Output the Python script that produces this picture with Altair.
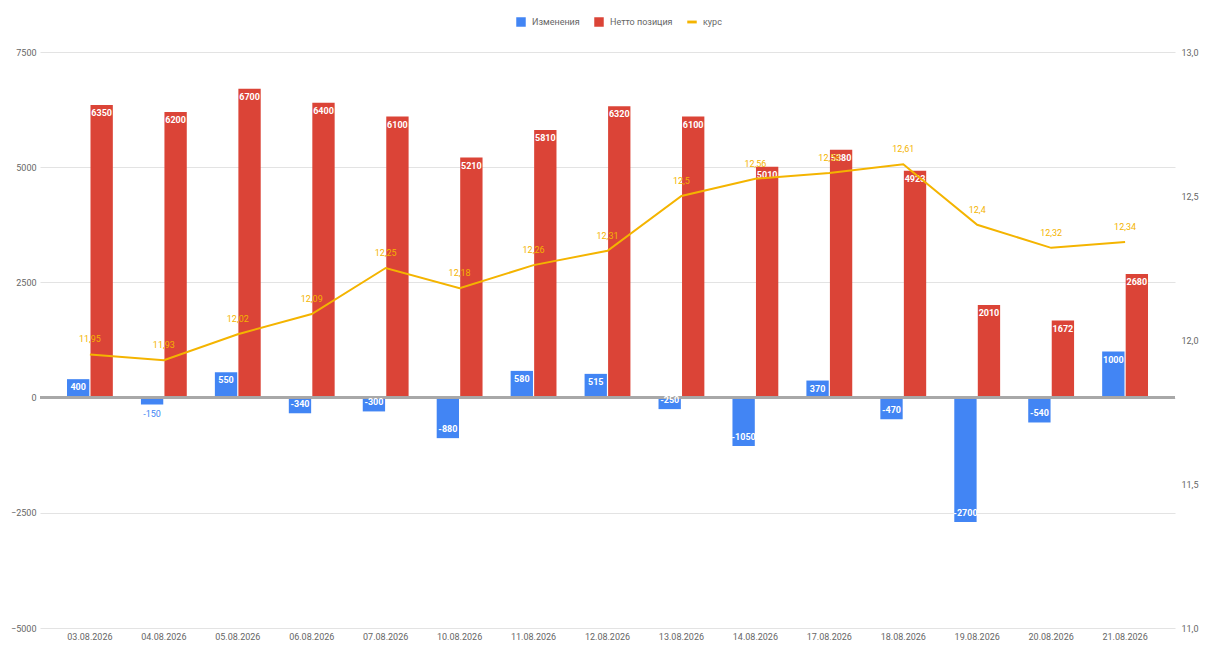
import altair as alt
import pandas as pd

dates = ["03.08.2026", "04.08.2026", "05.08.2026", "06.08.2026", "07.08.2026",
         "10.08.2026", "11.08.2026", "12.08.2026", "13.08.2026", "14.08.2026",
         "17.08.2026", "18.08.2026", "19.08.2026", "20.08.2026", "21.08.2026"]
changes = [400, -150, 550, -340, -300, -880, 580, 515, -250, -1050, 370, -470, -2700, -540, 1000]
net = [6350, 6200, 6700, 6400, 6100, 5210, 5810, 6320, 6100, 5010, 5380, 4923, 2010, 1672, 2680]
rate = [11.95, 11.93, 12.02, 12.09, 12.25, 12.18, 12.26, 12.31, 12.5, 12.56, 12.58, 12.61, 12.4, 12.32, 12.34]

series_bar = ["Изменения", "Нетто позиция"]
series_all = ["Изменения", "Нетто позиция", "курс"]
colors = ["#4285F4", "#DB4437", "#F4B400"]

rows = []
for d, c, n in zip(dates, changes, net):
    rows.append({"date": d, "series": series_bar[0], "value": c, "label": str(c), "inside": abs(c) >= 250})
    rows.append({"date": d, "series": series_bar[1], "value": n, "label": str(n), "inside": abs(n) >= 250})
df_bars = pd.DataFrame(rows)
df_line = pd.DataFrame({"date": dates, "rate": rate, "label": [str(v).replace(".", ",") for v in rate]})
df_leg = pd.DataFrame({"series": series_all})

color_scale = alt.Scale(domain=series_all, range=colors)
grey = "#666666"
FONT = "Roboto"

leg = alt.Legend(title=None, orient="none", direction="horizontal",
                 legendX=476, legendY=-35, symbolOpacity=1, symbolSize=90,
                 symbolStrokeWidth=0, labelFontSize=9, labelColor=grey,
                 labelFont=FONT, columnPadding=14, labelOffset=6)

x_enc = alt.X("date:N", sort=dates,
              scale=alt.Scale(paddingInner=0.38, paddingOuter=0.365),
              axis=alt.Axis(title=None, labelAngle=0, ticks=False, domain=False, grid=False,
                            labelPadding=4, labelFontSize=9, labelColor=grey, labelFont=FONT))
xoff_enc = alt.XOffset("series:N", sort=series_bar, scale=alt.Scale(paddingInner=0.05))
y_left = alt.Y("value:Q", scale=alt.Scale(domain=[-5000, 7500], nice=False, zero=False),
               axis=alt.Axis(title=None, values=[-5000, -2500, 0, 2500, 5000, 7500], format="d",
                             ticks=False, domain=False, grid=True, gridColor="#e3e3e3",
                             labelPadding=4, labelFontSize=9, labelColor=grey, labelFont=FONT))

bars = alt.Chart(df_bars).mark_bar().encode(
    x=x_enc, xOffset=xoff_enc, y=y_left,
    color=alt.Color("series:N", scale=color_scale, legend=leg),
)

base_txt = alt.Chart(df_bars)
txt_pos = base_txt.transform_filter("datum.value >= 0 && datum.inside").mark_text(
    baseline="top", dy=4, color="white", fontSize=9, fontWeight="bold", font=FONT
).encode(x=x_enc, xOffset=xoff_enc, y=y_left, text="label:N")
txt_neg = base_txt.transform_filter("datum.value < 0 && datum.inside").mark_text(
    baseline="bottom", dy=-4, color="white", fontSize=9, fontWeight="bold", font=FONT
).encode(x=x_enc, xOffset=xoff_enc, y=y_left, text="label:N")
txt_out = base_txt.transform_filter("datum.value < 0 && !datum.inside").mark_text(
    baseline="top", dy=5, color="#4285F4", fontSize=9, font=FONT
).encode(x=x_enc, xOffset=xoff_enc, y=y_left, text="label:N")

zero = alt.Chart(df_line).mark_rule(color="#a8a8a8", strokeWidth=1.5).encode(y=alt.Y(datum=0))

legend_layer = alt.Chart(df_leg).mark_point(filled=True, opacity=0).encode(
    color=alt.Color("series:N", scale=color_scale, legend=leg),
    shape=alt.Shape("series:N",
                    scale=alt.Scale(domain=series_all,
                                    range=["square", "square", "M-1,-0.3H1V0.3H-1Z"]),
                    legend=leg),
)

left = alt.layer(bars, zero, txt_pos, txt_neg, txt_out, legend_layer)

y_right = alt.Y("rate:Q", scale=alt.Scale(domain=[11, 13], nice=False, zero=False),
                axis=alt.Axis(title=None, orient="right", values=[11, 11.5, 12, 12.5, 13],
                              labelExpr="replace(format(datum.value, '.1f'), '.', ',')",
                              ticks=False, domain=False, grid=False,
                              labelPadding=6, labelFontSize=9, labelColor=grey, labelFont=FONT))

line = alt.Chart(df_line).mark_line(color="#F4B400", strokeWidth=2).encode(x=x_enc, y=y_right)
line_txt = alt.Chart(df_line).mark_text(
    color="#F4B400", fontSize=9, dy=-15, font=FONT
).encode(x=x_enc, y=y_right, text="label:N")

right = alt.layer(line, line_txt)

chart = alt.layer(left, right).resolve_scale(y="independent").properties(
    width=1135, height=576,
    autosize=alt.AutoSizeParams(type="none"),
    padding={"left": 32, "top": 44, "right": 24, "bottom": 26},
).configure(font=FONT).configure_view(strokeWidth=0).configure_axis(
    domain=False, ticks=False
)

chart.save("out.html", embed_options={"renderer": "svg", "actions": False})
